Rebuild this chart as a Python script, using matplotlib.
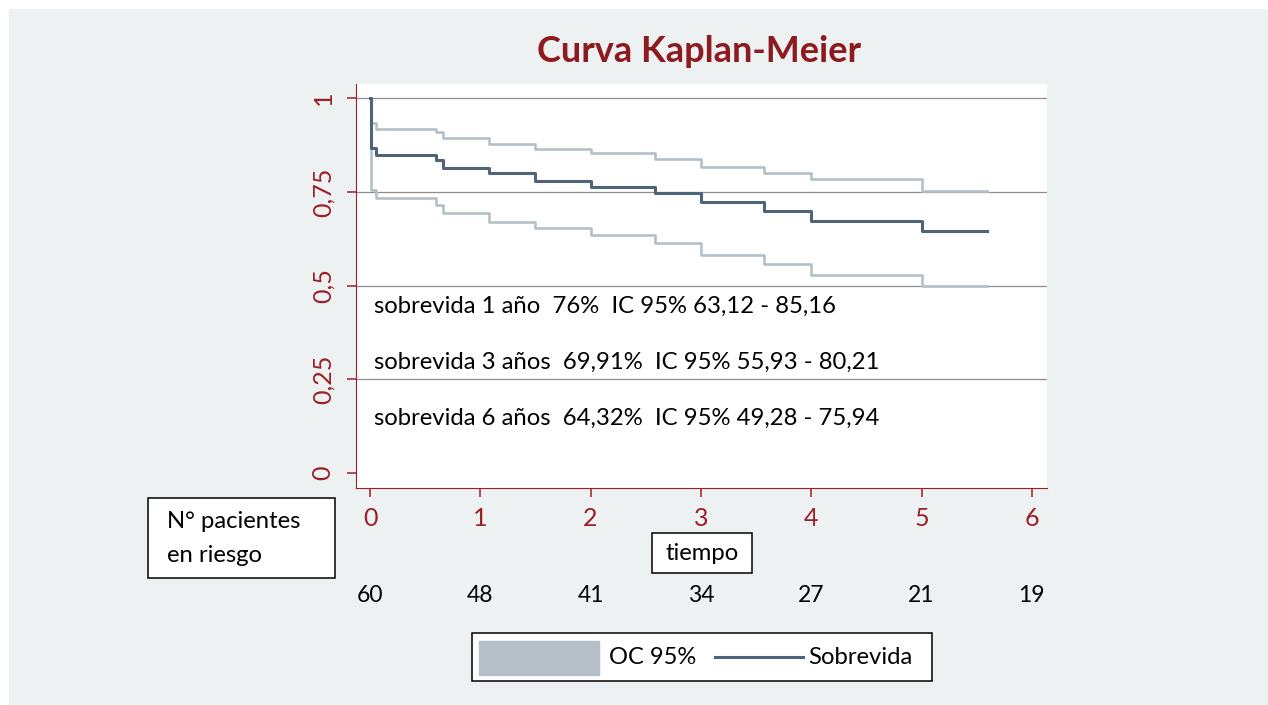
import matplotlib
matplotlib.use("Agg")
import matplotlib.pyplot as plt
from matplotlib.patches import Rectangle
from matplotlib.lines import Line2D

plt.rcParams['font.family'] = ['Lato', 'DejaVu Sans']

# datos (tiempo en años)
tiempo = [0, 0.01, 0.05, 0.6, 0.66, 1.08, 1.5, 2.0, 2.58, 3.0, 3.57, 4.0, 5.0]
sobrevida = [1.0, 0.867, 0.849, 0.835, 0.813, 0.800, 0.780, 0.764, 0.747, 0.722, 0.699, 0.673, 0.646]
ic_sup = [1.0, 0.933, 0.917, 0.911, 0.893, 0.878, 0.865, 0.853, 0.837, 0.817, 0.801, 0.784, 0.753]
ic_inf = [1.0, 0.754, 0.733, 0.715, 0.695, 0.671, 0.655, 0.634, 0.613, 0.582, 0.557, 0.528, 0.499]
t_fin = 5.59

ticks_x = [0, 1, 2, 3, 4, 5, 6]
en_riesgo = [60, 48, 41, 34, 27, 21, 19]
ticks_y = [0, 0.25, 0.5, 0.75, 1]
etiquetas_y = ['0', '0,25', '0,5', '0,75', '1']
notas = ['sobrevida 1 año  76%  IC 95% 63,12 - 85,16',
         'sobrevida 3 años  69,91%  IC 95% 55,93 - 80,21',
         'sobrevida 6 años  64,32%  IC 95% 49,28 - 75,94']
notas_y = [0.446, 0.296, 0.147]

rojo = '#9b1f26'
azul = '#4f6577'
gris_ic = '#b4c0c8'
fondo = '#eef1f2'

fig = plt.figure(figsize=(12.68, 7.05), dpi=100, facecolor='white')

# capa de fondo en pixeles
bg = fig.add_axes([0, 0, 1, 1])
bg.set_xlim(0, 1268)
bg.set_ylim(705, 0)
bg.axis('off')
bg.add_patch(Rectangle((9, 9), 1259, 696, color=fondo, zorder=0))

ax = fig.add_axes([356 / 1268, 1 - 488 / 705, 690.7 / 1268, 404 / 705])
ax.set_facecolor('white')
ax.set_xlim(-0.127, 6.135)
ax.set_ylim(-0.04, 1.038)

for y in ticks_y[1:]:
    ax.axhline(y, color='#8f8f8f', lw=0.9, zorder=1)

t = tiempo + [t_fin]
ax.step(t, ic_sup + [ic_sup[-1]], where='post', color=gris_ic, lw=1.9, zorder=2)
ax.step(t, ic_inf + [ic_inf[-1]], where='post', color=gris_ic, lw=1.9, zorder=2)
ax.step(t, sobrevida + [sobrevida[-1]], where='post', color=azul, lw=2.2, zorder=3)

ax.spines['top'].set_visible(False)
ax.spines['right'].set_visible(False)
ax.spines['left'].set_color(rojo)
ax.spines['bottom'].set_color(rojo)
ax.set_xticks(ticks_x)
ax.set_yticks(ticks_y)
ax.set_yticklabels(etiquetas_y, rotation=90, va='center')
ax.tick_params(colors=rojo, length=6.5, width=1.1, labelsize=18)
ax.tick_params(axis='y', pad=9)
ax.tick_params(axis='x', pad=7)

for txt, y in zip(notas, notas_y):
    ax.text(0.036, y, txt, va='center', ha='left', fontsize=17.2, color='black')

for x, n in zip(ticks_x, en_riesgo):
    ax.text(x, -0.265, str(n), transform=ax.get_xaxis_transform(),
            ha='center', va='center', fontsize=16.5, color='black')

bg.text(699, 52, 'Curva Kaplan-Meier', ha='center', va='center',
        fontsize=26, fontweight='bold', color='#8c1a1f')

# caja pacientes en riesgo
bg.add_patch(Rectangle((148.3, 498.3), 186.7, 80, fc='white', ec='black', lw=1.1))
bg.text(167, 522, 'N° pacientes', va='center', ha='left', fontsize=17.2)
bg.text(167, 555, 'en riesgo', va='center', ha='left', fontsize=17.2)

# caja tiempo
bg.add_patch(Rectangle((651.7, 533.3), 100.3, 39.4, fc='white', ec='black', lw=1.1))
bg.text(702, 553, 'tiempo', va='center', ha='center', fontsize=17.2)

# leyenda
bg.add_patch(Rectangle((472.3, 633.3), 459.4, 47.7, fc='white', ec='black', lw=1.1))
bg.add_patch(Rectangle((479, 641), 120, 34, color='#b4bfc7'))
bg.text(609, 657, 'OC 95%', va='center', ha='left', fontsize=17)
bg.add_line(Line2D([715, 803], [657, 657], color=azul, lw=2.2))
bg.text(808, 657, 'Sobrevida', va='center', ha='left', fontsize=17.2)

fig.savefig('out.png', dpi=100, facecolor=fig.get_facecolor())
